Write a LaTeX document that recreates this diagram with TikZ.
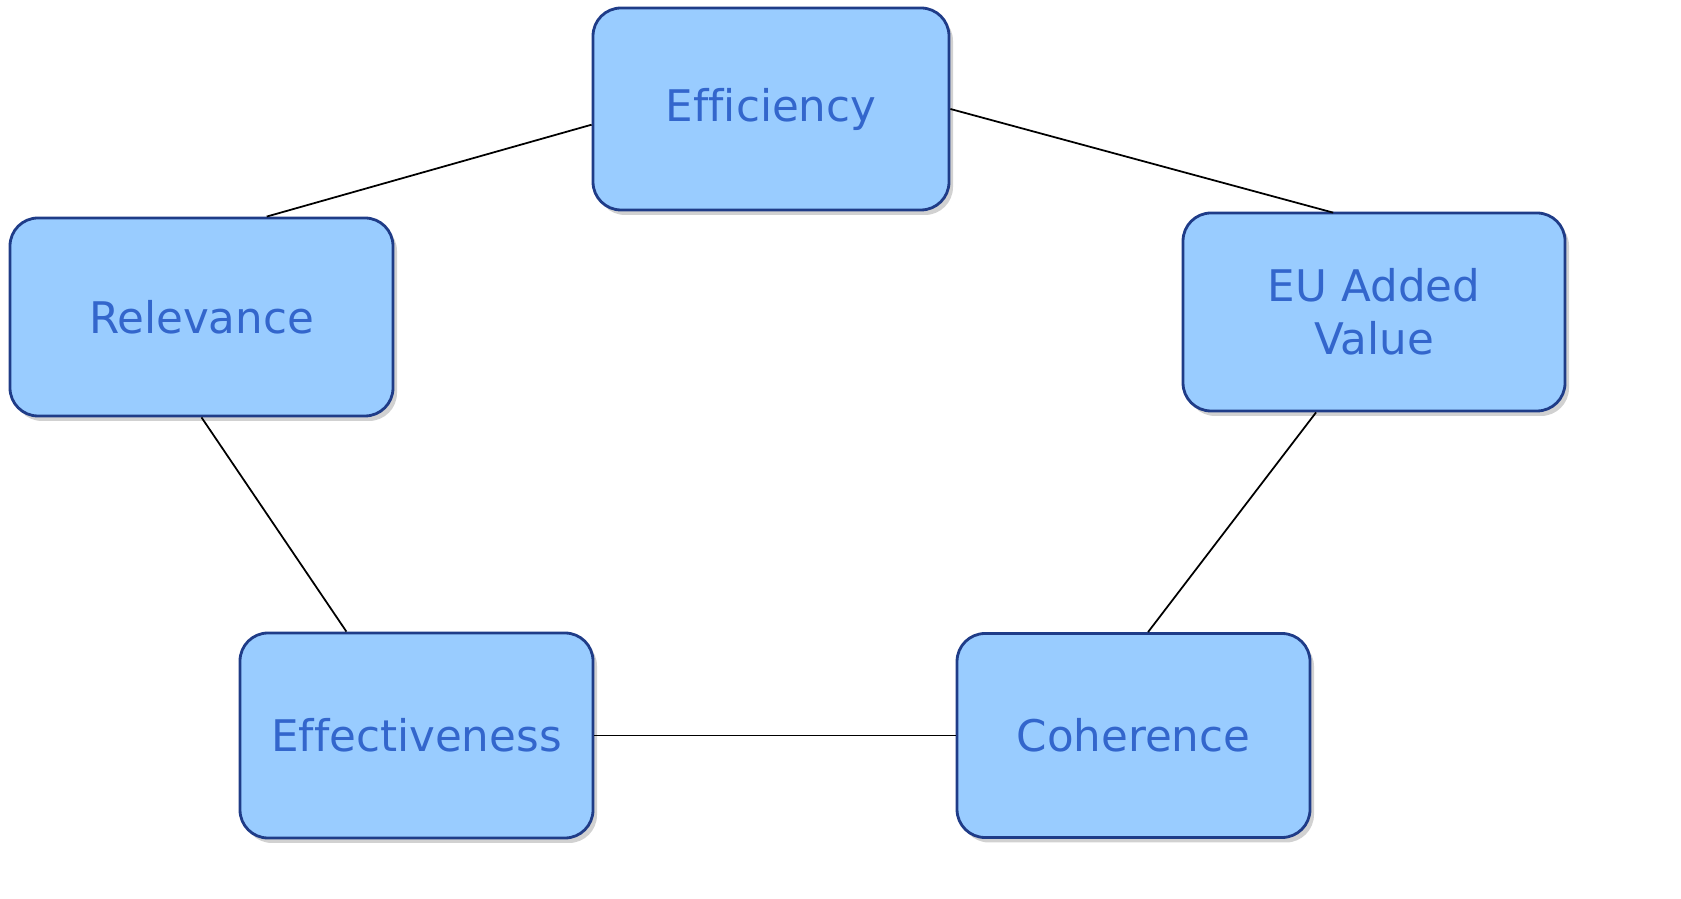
\documentclass[tikz,border=0pt]{standalone}
\usepackage{fontspec}
\setmainfont{DejaVu Sans}[Ligatures=NoCommon]
\usepackage{tikz}
\usetikzlibrary{shapes,arrows,positioning,calc,shadows}
\definecolor{boxfill}{HTML}{99CCFF}
\definecolor{boxline}{HTML}{1F3C88}
\definecolor{boxtext}{HTML}{3366CC}
\tikzset{
	block/.style = {draw=boxline, line width=0.8pt, fill=boxfill, rectangle, rounded corners=0.28cm,
		text=boxtext, font=\fontsize{12.4pt}{15.1pt}\selectfont, align=center,
		drop shadow={shadow xshift=0.04cm, shadow yshift=-0.05cm, fill=black!45, opacity=0.4}},
	link/.style = {draw, black, line width=0.5pt}
}
\begin{document}
\begin{tikzpicture}
    \useasboundingbox (0,0) rectangle (16.81,-8.99);
    \node [block, minimum width=3.56cm, minimum height=2.02cm] (efficiency) at (7.71,-1.09) {Efficiency};

    \node [block, below of=efficiency, node distance=2.08cm, xshift=-5.695cm, minimum width=3.83cm, minimum height=1.98cm] (relevance) {Relevance};
    \node [block, below of=efficiency, node distance=2.03cm, xshift=6.03cm, minimum width=3.82cm, minimum height=1.98cm] (euvalue) {EU Added\\Value};

    \node [block, below of=relevance, node distance=4.185cm, xshift=2.15cm, minimum width=3.53cm, minimum height=2.05cm] (effectiveness) {Effectiveness};
    \node [block, right of=effectiveness, node distance=7.17cm, minimum width=3.53cm, minimum height=2.04cm] (coherence) {Coherence};

    \draw [link] (efficiency.185) -- (relevance.57);
    \draw [link, shorten >=-0.04cm] (efficiency.east) -- (euvalue.114);
    \draw [link] (relevance.south) -- (effectiveness.124);
    \draw [link] (euvalue.240) -- (coherence.82);
    \draw [link] (effectiveness.east) -- (coherence.west);
  \end{tikzpicture}
\end{document}
